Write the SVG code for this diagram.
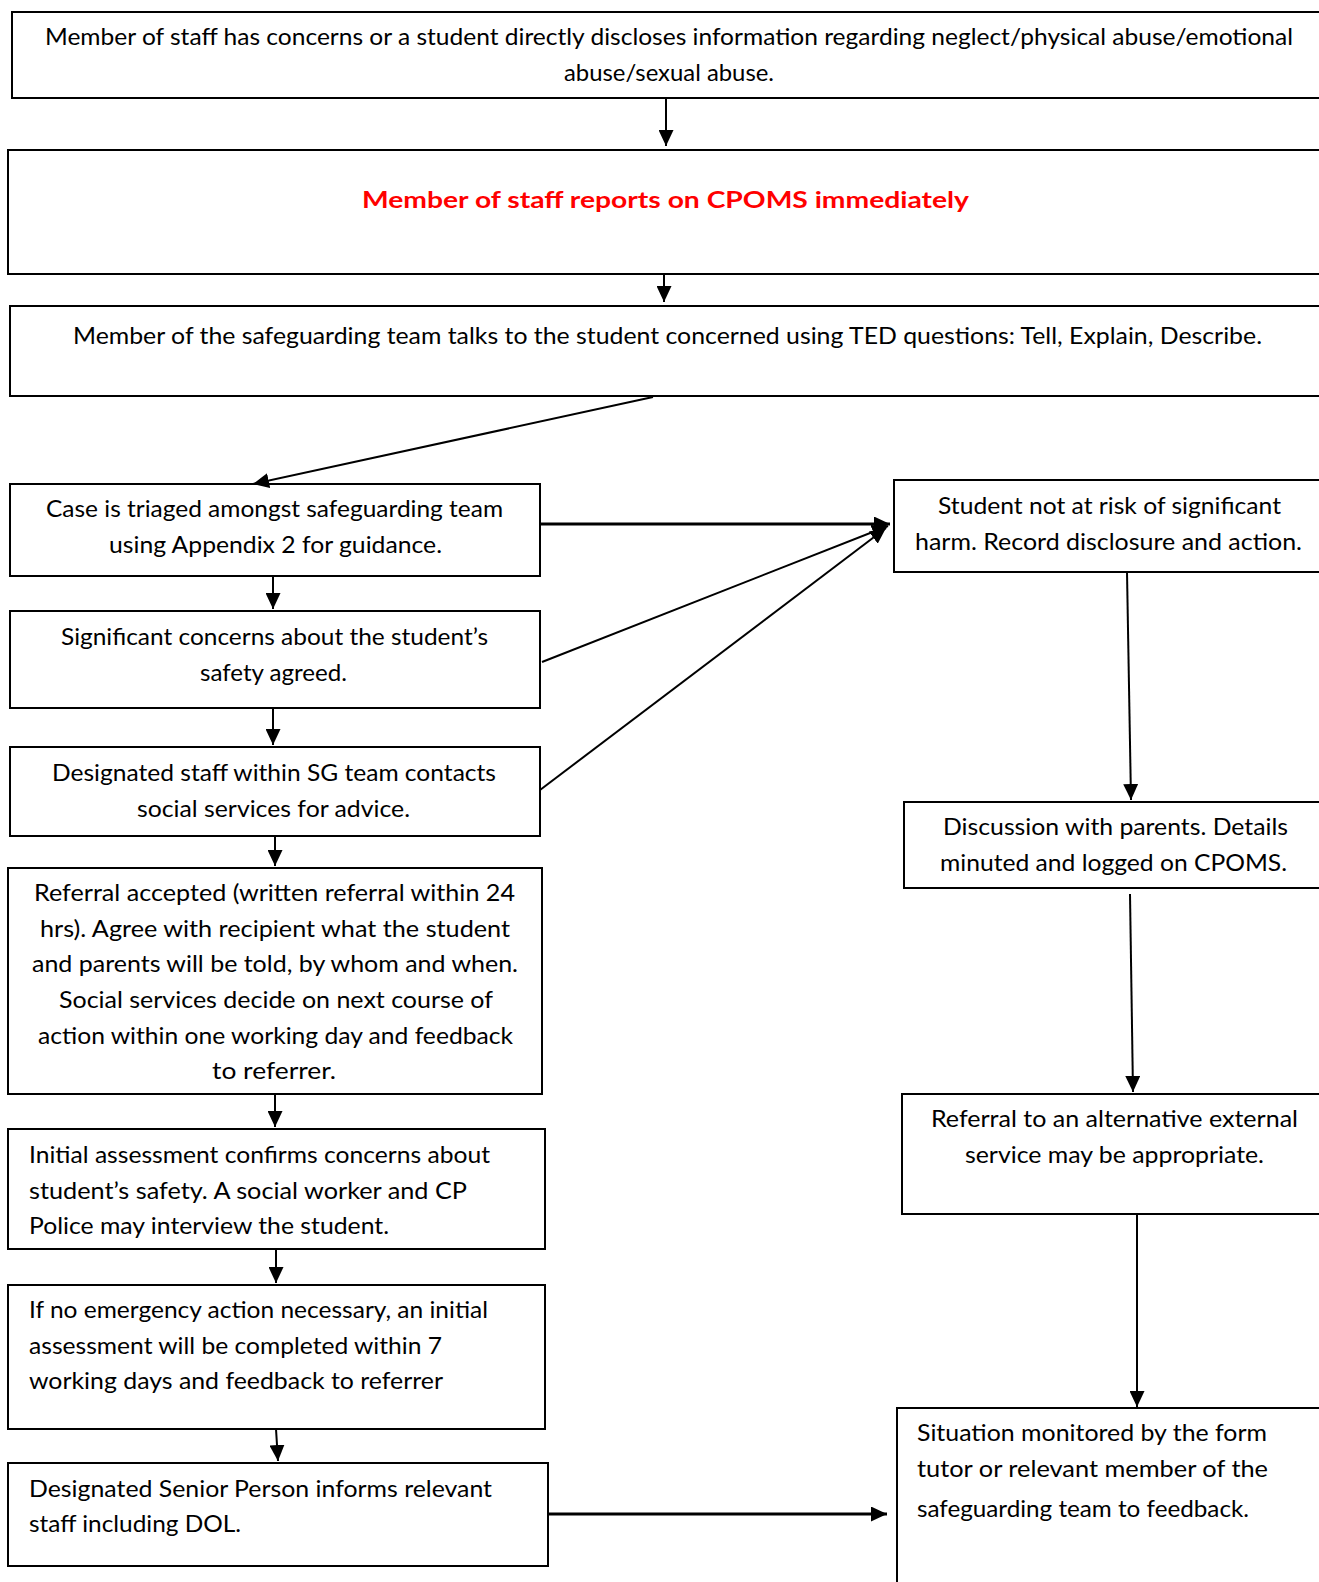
<svg xmlns="http://www.w3.org/2000/svg" width="1319" height="1582" viewBox="0 0 1319 1582">
<style>
.box{fill:#fff;stroke:#000;stroke-width:2}
.t{font-family:Lato,"Open Sans","Liberation Sans",sans-serif;font-size:23px;fill:#000}
.c{text-anchor:middle}
.red{fill:#ff0000;font-weight:bold}
.ln{stroke:#000;stroke-width:2;fill:none}
.thick{stroke-width:3}
</style>
<defs>
<marker id="ah" markerUnits="userSpaceOnUse" markerWidth="16" markerHeight="15" refX="16" refY="7.5" orient="auto">
<path d="M0,0 L16,7.5 L0,15 z" fill="#000"/>
</marker>
</defs>
<rect width="1319" height="1582" fill="#fff"/>
<g id="n1"><rect class="box" x="12" y="12" width="1330" height="86"/>
<text class="t c" x="669" y="45" textLength="1248" lengthAdjust="spacingAndGlyphs">Member of staff has concerns or a student directly discloses information regarding neglect/physical abuse/emotional</text>
<text class="t c" x="669" y="81" textLength="210" lengthAdjust="spacingAndGlyphs">abuse/sexual abuse.</text></g>
<g id="n2"><rect class="box" x="8" y="150" width="1330" height="124"/>
<text class="t c red" x="665.5" y="208" textLength="607" lengthAdjust="spacingAndGlyphs">Member of staff reports on CPOMS immediately</text></g>
<g id="n3"><rect class="box" x="10" y="306" width="1330" height="90"/>
<text class="t c" x="667.5" y="344" textLength="1189" lengthAdjust="spacingAndGlyphs">Member of the safeguarding team talks to the student concerned using TED questions: Tell, Explain, Describe.</text></g>
<g id="n4"><rect class="box" x="10" y="484" width="530" height="92"/>
<text class="t c" x="274.5" y="517" textLength="457" lengthAdjust="spacingAndGlyphs">Case is triaged amongst safeguarding team</text>
<text class="t c" x="275.5" y="553" textLength="333" lengthAdjust="spacingAndGlyphs">using Appendix 2 for guidance.</text></g>
<g id="n5"><rect class="box" x="10" y="611" width="530" height="97"/>
<text class="t c" x="274.5" y="645" textLength="427" lengthAdjust="spacingAndGlyphs">Significant concerns about the student’s</text>
<text class="t c" x="273.5" y="681" textLength="147" lengthAdjust="spacingAndGlyphs">safety agreed.</text></g>
<g id="n6"><rect class="box" x="10" y="747" width="530" height="89"/>
<text class="t c" x="274" y="781" textLength="444" lengthAdjust="spacingAndGlyphs">Designated staff within SG team contacts</text>
<text class="t c" x="273.5" y="817" textLength="273" lengthAdjust="spacingAndGlyphs">social services for advice.</text></g>
<g id="n7"><rect class="box" x="8" y="868" width="534" height="226"/>
<text class="t c" x="274.5" y="901" textLength="481" lengthAdjust="spacingAndGlyphs">Referral accepted (written referral within 24</text>
<text class="t c" x="275" y="937" textLength="470" lengthAdjust="spacingAndGlyphs">hrs). Agree with recipient what the student</text>
<text class="t c" x="275" y="972" textLength="486" lengthAdjust="spacingAndGlyphs">and parents will be told, by whom and when.</text>
<text class="t c" x="276" y="1008" textLength="434" lengthAdjust="spacingAndGlyphs">Social services decide on next course of</text>
<text class="t c" x="275.5" y="1044" textLength="475" lengthAdjust="spacingAndGlyphs">action within one working day and feedback</text>
<text class="t c" x="274" y="1079" textLength="124" lengthAdjust="spacingAndGlyphs">to referrer.</text></g>
<g id="n8"><rect class="box" x="8" y="1129" width="537" height="120"/>
<text class="t" x="29" y="1163" textLength="461" lengthAdjust="spacingAndGlyphs">Initial assessment confirms concerns about</text>
<text class="t" x="29" y="1199" textLength="438" lengthAdjust="spacingAndGlyphs">student’s safety. A social worker and CP</text>
<text class="t" x="29" y="1234" textLength="360" lengthAdjust="spacingAndGlyphs">Police may interview the student.</text></g>
<g id="n9"><rect class="box" x="8" y="1285" width="537" height="144"/>
<text class="t" x="29" y="1318" textLength="459" lengthAdjust="spacingAndGlyphs">If no emergency action necessary, an initial</text>
<text class="t" x="29" y="1354" textLength="413" lengthAdjust="spacingAndGlyphs">assessment will be completed within 7</text>
<text class="t" x="29" y="1389" textLength="414" lengthAdjust="spacingAndGlyphs">working days and feedback to referrer</text></g>
<g id="n10"><rect class="box" x="8" y="1463" width="540" height="103"/>
<text class="t" x="29" y="1497" textLength="463" lengthAdjust="spacingAndGlyphs">Designated Senior Person informs relevant</text>
<text class="t" x="29" y="1532" textLength="212" lengthAdjust="spacingAndGlyphs">staff including DOL.</text></g>
<g id="r1"><rect class="box" x="894" y="480" width="440" height="92"/>
<text class="t c" x="1109.5" y="514" textLength="343" lengthAdjust="spacingAndGlyphs">Student not at risk of significant</text>
<text class="t c" x="1108.5" y="550" textLength="387" lengthAdjust="spacingAndGlyphs">harm. Record disclosure and action.</text></g>
<g id="r2"><rect class="box" x="904" y="802" width="430" height="86"/>
<text class="t c" x="1115.5" y="835" textLength="345" lengthAdjust="spacingAndGlyphs">Discussion with parents. Details</text>
<text class="t c" x="1113.5" y="871" textLength="347" lengthAdjust="spacingAndGlyphs">minuted and logged on CPOMS.</text></g>
<g id="r3"><rect class="box" x="902" y="1094" width="432" height="120"/>
<text class="t c" x="1114.5" y="1127" textLength="367" lengthAdjust="spacingAndGlyphs">Referral to an alternative external</text>
<text class="t c" x="1114.5" y="1163" textLength="299" lengthAdjust="spacingAndGlyphs">service may be appropriate.</text></g>
<g id="r4"><rect class="box" x="897" y="1408" width="440" height="190"/>
<text class="t" x="917" y="1441" textLength="350" lengthAdjust="spacingAndGlyphs">Situation monitored by the form</text>
<text class="t" x="917" y="1477" textLength="351" lengthAdjust="spacingAndGlyphs">tutor or relevant member of the</text>
<text class="t" x="917" y="1517" textLength="332" lengthAdjust="spacingAndGlyphs">safeguarding team to feedback.</text></g>
<g id="connectors">
<line class="ln" x1="666" y1="98" x2="666" y2="146" marker-end="url(#ah)"/>
<line class="ln" x1="664" y1="274" x2="664" y2="302" marker-end="url(#ah)"/>
<line class="ln" x1="653" y1="397" x2="253" y2="484" marker-end="url(#ah)"/>
<line class="ln thick" x1="540" y1="524" x2="890" y2="524" marker-end="url(#ah)"/>
<line class="ln" x1="273" y1="576" x2="273" y2="609" marker-end="url(#ah)"/>
<line class="ln" x1="542" y1="662" x2="888" y2="526" marker-end="url(#ah)"/>
<line class="ln" x1="273" y1="708" x2="273" y2="745" marker-end="url(#ah)"/>
<line class="ln" x1="540" y1="790" x2="886" y2="528" marker-end="url(#ah)"/>
<line class="ln" x1="275" y1="836" x2="275" y2="866" marker-end="url(#ah)"/>
<line class="ln" x1="1127" y1="572" x2="1131" y2="800" marker-end="url(#ah)"/>
<line class="ln" x1="1130" y1="894" x2="1133" y2="1092" marker-end="url(#ah)"/>
<line class="ln" x1="275" y1="1094" x2="275" y2="1127" marker-end="url(#ah)"/>
<line class="ln" x1="1137" y1="1214" x2="1137" y2="1407" marker-end="url(#ah)"/>
<line class="ln" x1="276" y1="1250" x2="276" y2="1283" marker-end="url(#ah)"/>
<line class="ln" x1="276" y1="1429" x2="278" y2="1461" marker-end="url(#ah)"/>
<line class="ln thick" x1="548" y1="1514" x2="887" y2="1514" marker-end="url(#ah)"/>
</g>
</svg>
